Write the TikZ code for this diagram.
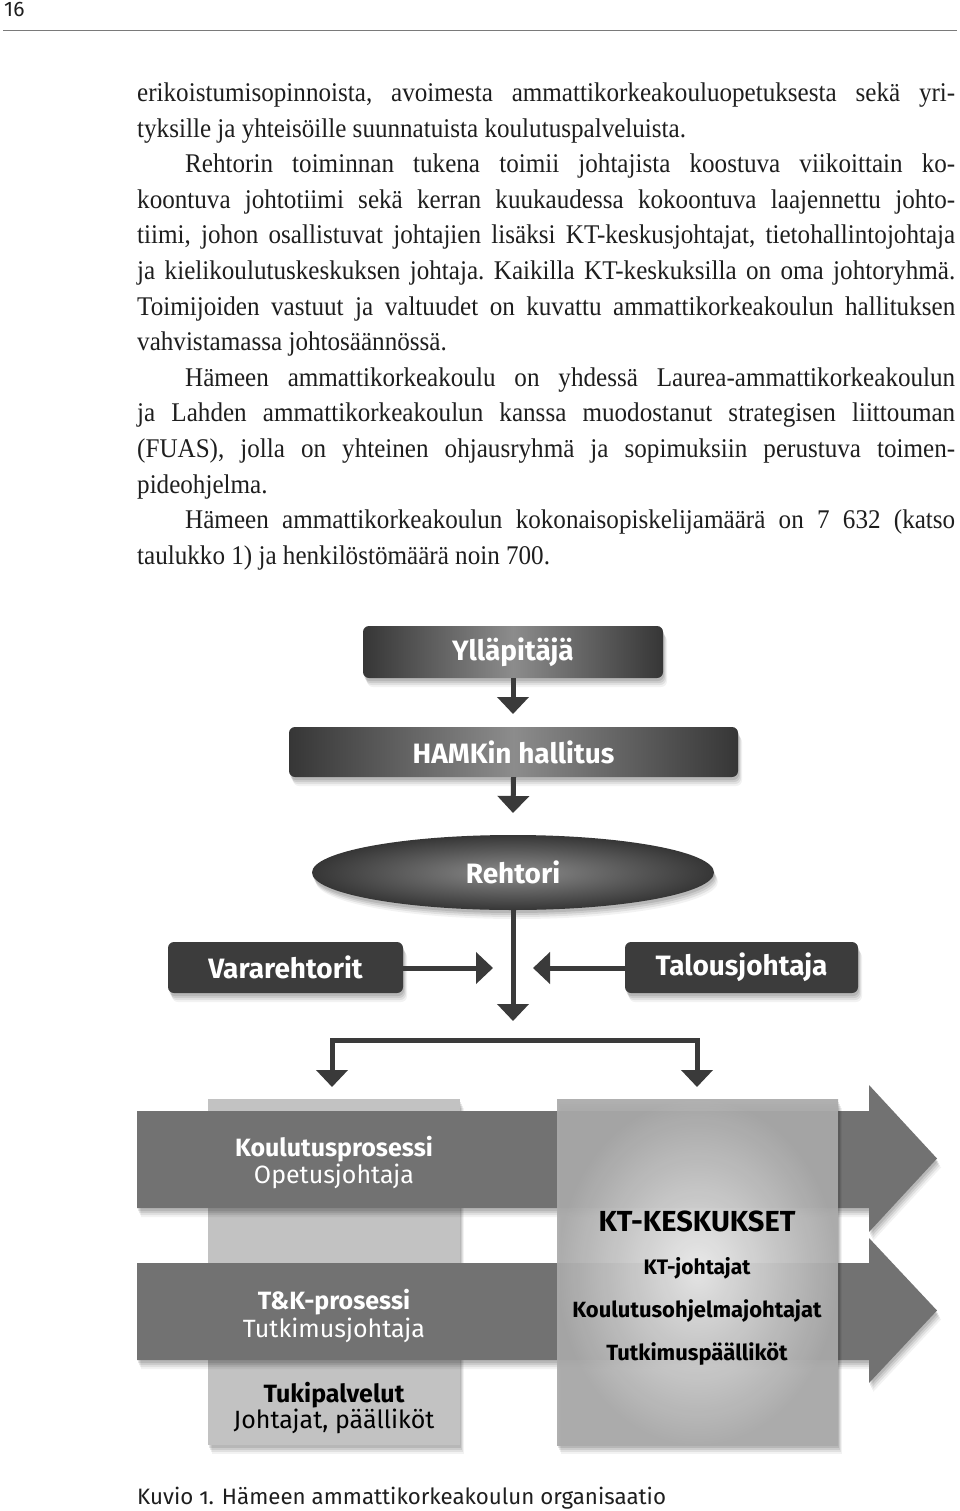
\documentclass[tikz,border=0pt]{standalone}
\usepackage{fontspec}
\setmainfont{Liberation Serif}
\newfontfamily\bodyfont[FakeStretch=0.93]{Liberation Serif}
\newfontfamily\dfont{Fira Sans}
\newfontfamily\capfont[Numbers=OldStyle]{Fira Sans}
\usetikzlibrary{shapes.geometric,arrows.meta,shadows}
\definecolor{bodyc}{HTML}{1E1E1E}
\definecolor{boxdark}{HTML}{363636}
\definecolor{boxmid}{HTML}{8C8C8C}
\definecolor{solidbox}{HTML}{3C3C3C}
\definecolor{arrowc}{HTML}{3A3A3A}
\definecolor{bandc}{HTML}{727272}
\definecolor{colL}{HTML}{C2C2C2}
\definecolor{colRin}{HTML}{EEEEEE}
\definecolor{colRout}{HTML}{ABABAB}
\definecolor{rulec}{HTML}{7A7A7A}
\tikzset{
  bodyline/.style={anchor=base west, inner sep=0pt, text=bodyc, font={\bodyfont\fontsize{27}{30}\selectfont\frenchspacing}},
  shad/.style={
    general shadow={shadow xshift=1pt, shadow yshift=-3pt, opacity=0.10, fill=black},
    general shadow={shadow xshift=2pt, shadow yshift=-5pt, opacity=0.09, fill=black},
    general shadow={shadow xshift=3pt, shadow yshift=-7pt, opacity=0.07, fill=black},
    general shadow={shadow xshift=4pt, shadow yshift=-9pt, opacity=0.05, fill=black}},
  gradbox/.style={rectangle, rounded corners=6pt, inner sep=0pt, left color=boxdark, right color=boxdark, middle color=boxmid, text=white, shad},
  solidboxst/.style={rectangle, rounded corners=6pt, inner sep=0pt, fill=solidbox, text=white, shad, font={\dfont\bfseries\fontsize{28}{30}\selectfont}},
  conn/.style={draw=arrowc, line width=5pt, -{Triangle[width=31pt,length=17pt]}},
  wtxt/.style={anchor=base, inner sep=0pt, text=white},
  ktxt/.style={anchor=base, inner sep=0pt, text=black}
}
\begin{document}
\begin{tikzpicture}[x=1pt,y=-1pt]
\useasboundingbox[fill=white] (0,0) rectangle (960,1511);

% header
\node[anchor=base west, inner sep=0pt, text=bodyc, font={\dfont\fontsize{21}{24}\selectfont}] (pg) at (4,17) {16};
\draw[rulec, line width=1.5pt] (3,30.5) -- (957,30.5);

% body text
\node[bodyline] (l1) at (137,101.5) {\makebox[818pt][s]{erikoistumisopinnoista, avoimesta ammattikorkeakouluopetuksesta sekä yri-}};
\node[bodyline] (l2) at (137,137.1) {tyksille ja yhteisöille suunnatuista koulutuspalveluista.};
\node[bodyline] (l3) at (185,172.7) {\makebox[770pt][s]{Rehtorin toiminnan tukena toimii johtajista koostuva viikoittain ko-}};
\node[bodyline] (l4) at (137,208.3) {\makebox[818pt][s]{koontuva johtotiimi sekä kerran kuukaudessa kokoontuva laajennettu johto-}};
\node[bodyline] (l5) at (137,243.9) {\makebox[818pt][s]{tiimi, johon osallistuvat johtajien lisäksi KT-keskusjohtajat, tietohallintojohtaja}};
\node[bodyline] (l6) at (137,279.5) {\makebox[818pt][s]{ja kielikoulutuskeskuksen johtaja. Kaikilla KT-keskuksilla on oma johtoryhmä.}};
\node[bodyline] (l7) at (137,315.1) {\makebox[818pt][s]{Toimijoiden vastuut ja valtuudet on kuvattu ammattikorkeakoulun hallituksen}};
\node[bodyline] (l8) at (137,350.7) {vahvistamassa johtosäännössä.};
\node[bodyline] (l9) at (185,386.3) {\makebox[770pt][s]{Hämeen ammattikorkeakoulu on yhdessä Laurea-ammattikorkeakoulun}};
\node[bodyline] (l10) at (137,421.9) {\makebox[818pt][s]{ja Lahden ammattikorkeakoulun kanssa muodostanut strategisen liittouman}};
\node[bodyline] (l11) at (137,457.5) {\makebox[818pt][s]{(FUAS), jolla on yhteinen ohjausryhmä ja sopimuksiin perustuva toimen-}};
\node[bodyline] (l12) at (137,493.1) {pideohjelma.};
\node[bodyline] (l13) at (185,528.7) {\makebox[770pt][s]{Hämeen ammattikorkeakoulun kokonaisopiskelijamäärä on 7 632 (katso}};
\node[bodyline] (l14) at (137,564.3) {taulukko 1) ja henkilöstömäärä noin 700.};

% top of chart
\node[gradbox, minimum width=300pt, minimum height=52pt, font={\dfont\bfseries\fontsize{28}{30}\selectfont}] (Y) at (513,652) {Ylläpitäjä};
\node[gradbox, minimum width=449pt, minimum height=50pt, font={\dfont\bfseries\fontsize{28}{30}\selectfont}] (H) at (513.5,752) {HAMKin hallitus};
\node[ellipse, inner sep=0pt, minimum width=402pt, minimum height=75pt, inner color=boxmid, outer color=boxdark, text=white, shad, font={\dfont\bfseries\fontsize{28}{30}\selectfont}] (R) at (513,872.5) {Rehtori};
\node[solidboxst, minimum width=235pt, minimum height=51pt] (V) at (285.5,967.5) {Vararehtorit};
\node[solidboxst, minimum width=233pt, minimum height=51pt] (T) at (741.5,967.5) {Talousjohtaja};

\coordinate (a1) at (513,714);
\coordinate (a2) at (513,813);
\coordinate (a3) at (513,1021);
\coordinate (av) at (493,968);
\coordinate (at) at (533,968);
\coordinate (bm) at (513,1040);
\coordinate (bl) at (332,1087);
\coordinate (br) at (697,1087);

\draw[conn] (Y.south) -- (a1);
\draw[conn] (H.south) -- (a2);
\draw[conn] (R.south) -- (a3);
\draw[conn] (V.east |- av) -- (av);
\draw[conn] (T.west |- at) -- (at);
\draw[conn] (bm) -| (bl);
\draw[conn] (bm) -| (br);

% bottom chart
\node[rectangle, inner sep=0pt, fill=colL, minimum width=252pt, minimum height=346pt, shad] (CL) at (334,1272) {};
\path[fill=bandc, shad] (137,1111) -- (869,1111) -- (869,1085) -- (937,1158.5) -- (869,1232) -- (869,1208) -- (137,1208) -- cycle;
\path[fill=bandc, shad] (137,1263) -- (869,1263) -- (869,1238) -- (937,1310.5) -- (869,1383) -- (869,1360) -- (137,1360) -- cycle;
\node[rectangle, inner sep=0pt, minimum width=281pt, minimum height=346pt, inner color=colRin, outer color=colRout, fill opacity=0.93, shad] (CR) at (697.5,1272) {};

\node[wtxt, font={\dfont\bfseries\fontsize{25}{28}\selectfont}] (k1) at (334,1156) {Koulutusprosessi};
\node[wtxt, font={\dfont\fontsize{25}{28}\selectfont}] (k2) at (334,1183) {Opetusjohtaja};
\node[wtxt, font={\dfont\bfseries\fontsize{25}{28}\selectfont}] (t1) at (334,1309) {T\&K-prosessi};
\node[wtxt, font={\dfont\fontsize{25}{28}\selectfont}] (t2) at (334,1337) {Tutkimusjohtaja};
\node[ktxt, font={\dfont\bfseries\fontsize{25}{28}\selectfont}] (s1) at (334,1402) {Tukipalvelut};
\node[ktxt, font={\dfont\fontsize{25}{28}\selectfont}] (s2) at (334,1428) {Johtajat, päälliköt};

\node[ktxt, font={\dfont\bfseries\fontsize{29}{32}\selectfont}] (c1) at (697,1231) {KT-KESKUKSET};
\node[ktxt, font={\dfont\bfseries\fontsize{21}{24}\selectfont}] (c2) at (697,1274) {KT-johtajat};
\node[ktxt, font={\dfont\bfseries\fontsize{22}{24}\selectfont}] (c3) at (697,1317) {Koulutusohjelmajohtajat};
\node[ktxt, font={\dfont\bfseries\fontsize{22}{24}\selectfont}] (c4) at (697,1360) {Tutkimuspäälliköt};

% caption
\node[anchor=base west, inner sep=0pt, text=bodyc, font={\capfont\fontsize{22.3}{26}\selectfont}] (cap) at (137,1504) {Kuvio 1. Hämeen ammattikorkeakoulun organisaatio};
\end{tikzpicture}
\end{document}
